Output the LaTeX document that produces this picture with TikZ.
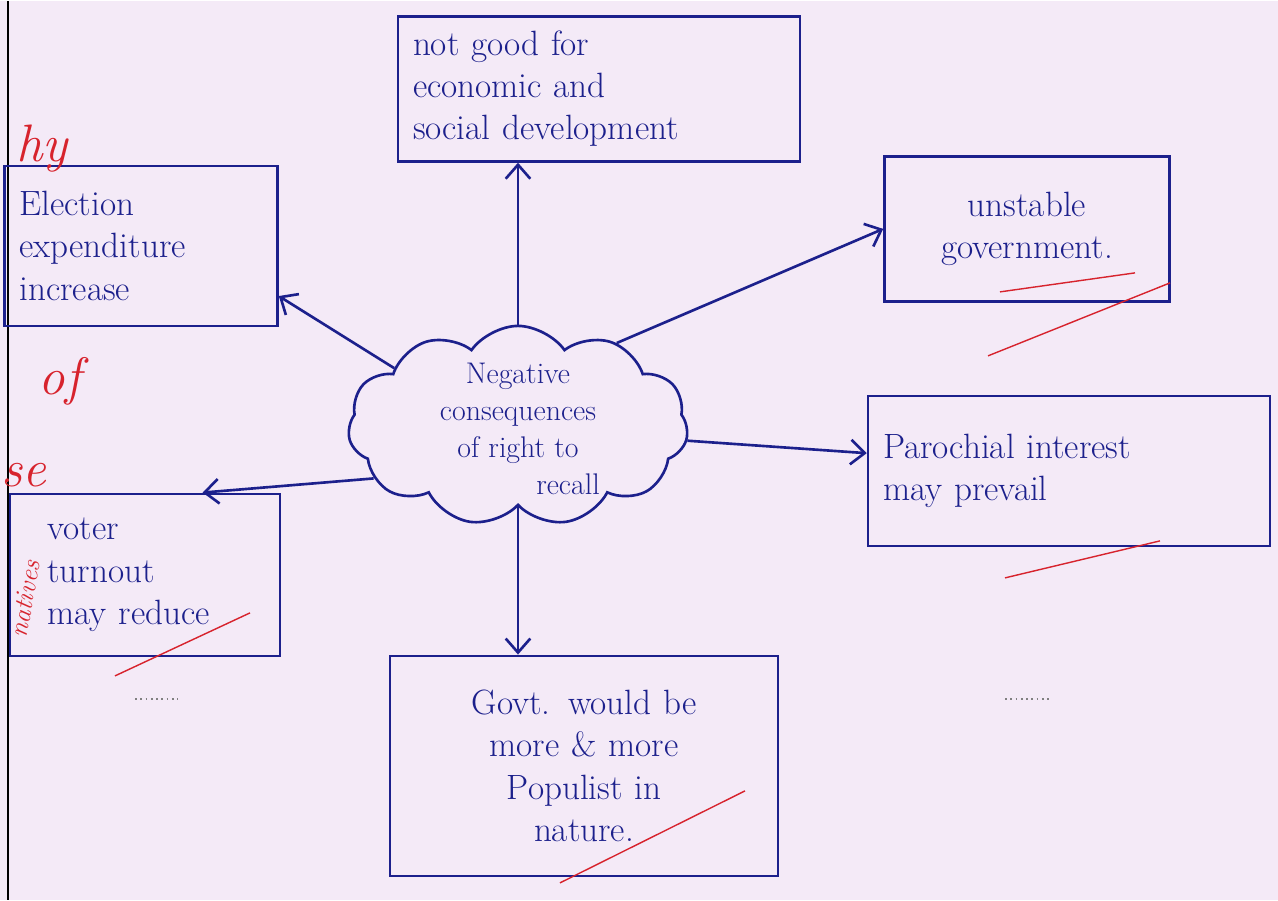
\documentclass[tikz,border=0pt]{standalone}
\usepackage{tikz}
\usetikzlibrary{arrows.meta,
	shapes.symbols}
\definecolor{ink}{RGB}{28,32,140}
\definecolor{paper}{RGB}{244,234,247}
\definecolor{redink}{RGB}{215,35,45}
\begin{document}
\begin{tikzpicture}[x=0.02cm,y=-0.02cm]
        \tikzstyle{box}=[draw=ink,line width=1.5pt,text=ink,align=left,inner xsep=0.3cm,inner ysep=0pt,font=\fontsize{20}{24}\selectfont]
        \tikzstyle{link}=[draw=ink,line width=1.5pt,-{Straight Barb[length=8pt,width=14pt]}]
        \tikzstyle{remark}=[text=redink,inner sep=0pt,font=\fontsize{30}{30}\selectfont\itshape]
        \fill[paper] (0,0) rectangle (1278,899);
        \draw[line width=1pt] (8,0) -- (8,899);
        % centre and the six boxes
        \node[cloud,cloud puffs=11,cloud puff arc=110,draw=ink,line width=1.5pt,minimum width=6.8cm,minimum height=4cm] (neg) at (518,425) {};
        \node[text=ink,align=center,inner sep=0pt,font=\fontsize{17}{21}\selectfont] (neg_txt) at (518,428) {Negative\\consequences\\of right to\\\hspace*{2cm}recall};
        \node[box,text width=7.44cm,minimum height=2.9cm] (b_econ) at (599,88) {not good for\\economic and\\social development};
        \node[box,text width=4.86cm,minimum height=3.2cm] (b_exp) at (141,245) {Election\\expenditure\\increase};
        \node[box,text width=5.1cm,minimum height=2.9cm,align=center] (b_unst) at (1027,228) {unstable\\government.};
        \node[box,text width=7.44cm,minimum height=3cm] (b_paro) at (1069,470) {Parochial interest\\may prevail};
        \node[box,text width=3.9cm,inner xsep=0.75cm,minimum height=3.24cm] (b_voter) at (145,574) {voter\\turnout\\may reduce};
        \node[box,text width=7.16cm,minimum height=4.4cm,align=center] (b_govt) at (584,765) {Govt. would be\\more \& more\\Populist in\\nature.};
        % arrows out of the cloud
        \draw[link] (neg.north) -- (neg.north |- b_econ.south);
        \draw[link] (neg.155) -- (b_exp.-20);
        \draw[link] (neg.40) -- (b_unst.west);
        \draw[link] (neg.-5) -- (b_paro.175);
        \draw[link] (neg.200) -- (b_voter.55);
        \draw[link] (neg.south) -- (neg.south |- b_govt.north);
        % marks of the examiner
        \node[remark] (r_hy) at (42,148) {hy};
        \node[remark] (r_of) at (60,380) {of};
        \node[remark] (r_se) at (24,474) {se};
        \node[remark,rotate=80,font=\fontsize{15}{15}\selectfont\itshape] (r_nat) at (25,598) {natives};
        \draw[redink,line width=0.8pt] (1000,291) -- (1135,272);
        \draw[redink,line width=0.8pt] (988,355) -- (1170,282);
        \draw[redink,line width=0.8pt] (1005,577) -- (1160,540);
        \draw[redink,line width=0.8pt] (115,675) -- (250,612);
        \draw[redink,line width=0.8pt] (560,882) -- (745,790);
        \draw[gray,dotted,line width=1pt] (135,698) -- (178,698);
        \draw[gray,dotted,line width=1pt] (1005,698) -- (1050,698);
\end{tikzpicture}
\end{document}
